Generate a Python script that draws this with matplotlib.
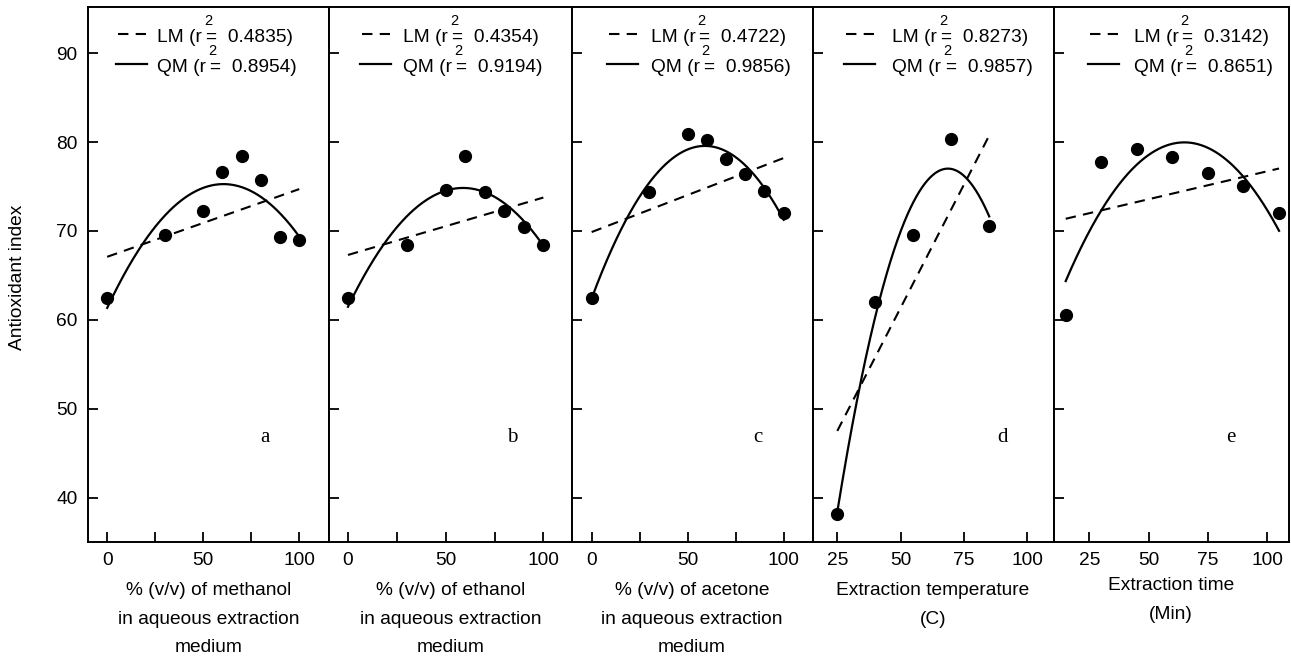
import numpy as np
import matplotlib
matplotlib.use('Agg')
import matplotlib.pyplot as plt

plt.rcParams['font.family'] = ['Liberation Sans', 'DejaVu Sans']

# ---------------- data ----------------
methanol_x = [0, 30, 50, 60, 70, 80, 90, 100]
methanol_y = [62.5, 69.5, 72.3, 76.6, 78.4, 75.7, 69.3, 69.0]
ethanol_x = [0, 30, 50, 60, 70, 80, 90, 100]
ethanol_y = [62.5, 68.4, 74.6, 78.4, 74.4, 72.2, 70.5, 68.4]
acetone_x = [0, 30, 50, 60, 70, 80, 90, 100]
acetone_y = [62.5, 74.4, 80.9, 80.2, 78.1, 76.4, 74.5, 72.0]
temp_x = [25, 40, 55, 70, 85]
temp_y = [38.2, 62.0, 69.5, 80.3, 70.6]
time_x = [15, 30, 45, 60, 75, 90, 105]
time_y = [60.5, 77.8, 79.2, 78.3, 76.5, 75.1, 72.0]

lm_r2 = ['0.4835', '0.4354', '0.4722', '0.8273', '0.3142']
qm_r2 = ['0.8954', '0.9194', '0.9856', '0.9857', '0.8651']
panel_letters = ['a', 'b', 'c', 'd', 'e']
x_labels = ['% (v/v) of methanol\nin aqueous extraction\nmedium',
            '% (v/v) of ethanol\nin aqueous extraction\nmedium',
            '% (v/v) of acetone\nin aqueous extraction\nmedium',
            'Extraction temperature\n(C)',
            'Extraction time\n(Min)']
x_major = [[0, 50, 100], [0, 50, 100], [0, 50, 100], [25, 50, 75, 100], [25, 50, 75, 100]]
x_minor = [[25, 75], [25, 75], [25, 75], [], []]
y_ticks = [40, 50, 60, 70, 80, 90]
y_label = 'Antioxidant index'

series_x = [methanol_x, ethanol_x, acetone_x, temp_x, time_x]
series_y = [methanol_y, ethanol_y, acetone_y, temp_y, time_y]

# ---------------- layout (pixels) ----------------
W, H = 1291, 660
panel_px = [(88, 329), (329, 571.5), (571.5, 812.5), (812.5, 1053.5), (1053.5, 1289)]
xlims = [(-10, 115.5), (-9.7, 114.4), (-10.5, 115), (15.2, 110.4), (9.85, 109.2)]
ylim = (35, 95.2)
top_px, bot_px = 7, 542
sample_off = [30, 33, 37, 33, 36]
text_off = [69, 74, 79, 80, 80]
letter_off = [177, 183, 186, 190, 177]
fs = 13.8

fig = plt.figure(figsize=(W / 100, H / 100), dpi=100)


def fx(x):
    return x / W


def fy(y):
    return 1 - y / H


for i in range(5):
    l, r = panel_px[i]
    ax = fig.add_axes([fx(l), fy(bot_px), (r - l) / W, (bot_px - top_px) / H])
    ax.set_xlim(*xlims[i])
    ax.set_ylim(*ylim)
    x = np.array(series_x[i], dtype=float)
    y = np.array(series_y[i], dtype=float)
    xs = np.linspace(x.min(), x.max(), 300)
    lin = np.polyval(np.polyfit(x, y, 1), xs)
    quad = np.polyval(np.polyfit(x, y, 2), xs)
    ax.plot(xs, lin, color='black', lw=1.5, dashes=(5, 3.5))
    ax.plot(xs, quad, color='black', lw=1.6)
    ax.plot(x, y, 'o', color='black', ms=8.5, clip_on=False)

    for s in ax.spines.values():
        s.set_linewidth(1.4)
    ax.set_xticks(x_major[i])
    ax.set_xticks(x_minor[i], minor=True)
    ax.set_yticks(y_ticks)
    ax.tick_params(which='both', direction='in', length=7, width=1.3,
                   labelsize=fs, pad=7.5, top=False, right=False)
    if i == 0:
        ax.set_yticklabels([str(t) for t in y_ticks])
    else:
        ax.set_yticklabels([])

    # x label
    cx = (l + r) / 2
    dy = -5 if i == 4 else 0
    ax.text(fx(cx), fy(582 + dy), x_labels[i], transform=fig.transFigure,
            ha='center', va='top', fontsize=fs, linespacing=1.9)

    # panel letter
    ax.text(fx(l + letter_off[i]), fy(438), panel_letters[i], transform=fig.transFigure,
            ha='center', va='center', fontsize=15, family='Liberation Serif')

    # legend
    sx = l + sample_off[i]
    ax.plot([fx(sx), fx(sx + 28)], [fy(34), fy(34)], transform=fig.transFigure,
            color='black', lw=1.5, dashes=(5, 3.5), clip_on=False)
    ax.plot([fx(sx - 2), fx(sx + 29)], [fy(64), fy(64)], transform=fig.transFigure,
            color='black', lw=1.6, clip_on=False)
    tx = l + text_off[i]
    for base, name, val in [(42, 'LM', lm_r2[i]), (72, 'QM', qm_r2[i])]:
        t1 = ax.text(fx(tx), fy(base), name + ' (r', transform=fig.transFigure,
                     ha='left', va='baseline', fontsize=fs, clip_on=False)
        ax.annotate('=  ' + val + ')', xy=(1, 0), xycoords=t1, xytext=(4, 0),
                    textcoords='offset pixels', ha='left', va='bottom',
                    fontsize=fs, annotation_clip=False)
        ax.annotate('2', xy=(1, 0), xycoords=t1, xytext=(6, 21),
                    textcoords='offset pixels', ha='center', va='baseline',
                    fontsize=10.5, annotation_clip=False)

fig.text(fx(18), fy(277), y_label, rotation=90, ha='center', va='center', fontsize=fs)

fig.savefig('out.png', dpi=100)
